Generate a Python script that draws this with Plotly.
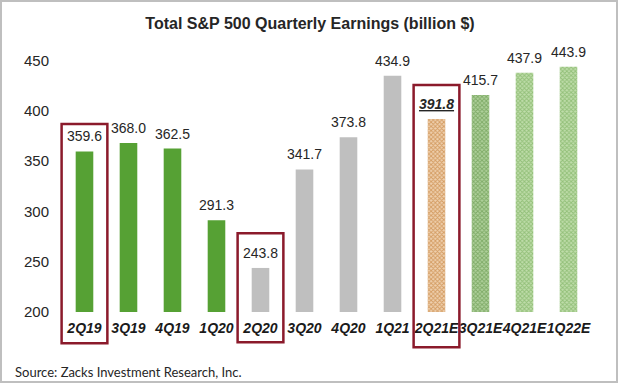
import plotly.graph_objects as go

quarters = ["2Q19", "3Q19", "4Q19", "1Q20", "2Q20", "3Q20", "4Q20", "1Q21",
            "2Q21E", "3Q21E", "4Q21E", "1Q22E"]
earnings = [359.6, 368.0, 362.5, 291.3, 243.8, 341.7, 373.8, 434.9,
            391.8, 415.7, 437.9, 443.9]
kinds = ["actual", "actual", "actual", "actual", "covid", "covid", "covid", "covid",
         "current", "forecast1", "forecast", "forecast"]
highlight = ["2Q19", "2Q20", "2Q21E"]
highlight_top = [386.8, 278.3, 425.6]
highlight_bottom = [169, 170, 165]
y_ticks = [200, 250, 300, 350, 400, 450]
title = "Total S&P 500 Quarterly Earnings (billion $)"
source = "Source: Zacks Investment Research, Inc."

W, H = 620, 385
L, R, T, B = 62, 28, 50, 73
XR = [-0.511, 11.534]
YR = [200, 460.5]

styles = {
    "actual": dict(color="#56A134", fg=None, bg=None),
    "covid": dict(color="#BFBFBF", fg=None, bg=None),
    "current": dict(color="#E3BA8E", fg="#D49C62", bg="#EFD0AE"),
    "forecast1": dict(color="#98C082", fg="#7EAA66", bg="#AFD19B"),
    "forecast": dict(color="#AAD08F", fg="#92BF78", bg="#BFDDAA"),
}

fig = go.Figure()
for i, (q, v, k) in enumerate(zip(quarters, earnings, kinds)):
    st = styles[k]
    marker = dict(color=st["color"], line=dict(width=0))
    if st["fg"]:
        marker["pattern"] = dict(shape="x", size=3, solidity=0.5,
                                 fgcolor=st["fg"], bgcolor=st["bg"], fillmode="replace")
    fig.add_trace(go.Bar(x=[q], y=[v - YR[0]], base=YR[0], marker=marker,
                         width=0.4, showlegend=False, hoverinfo="skip"))

annotations = []
for q, v in zip(quarters, earnings):
    txt = f"{v:.1f}"
    if q == "2Q21E":
        txt = f"<b><i><u>{txt}</u></i></b>"
    annotations.append(dict(x=q, y=v, xref="x", yref="y", text=txt, showarrow=False,
                            yanchor="bottom", yshift=5,
                            font=dict(family="Liberation Sans, Arial", size=14, color="#262626")))

pw = W - L - R
ph = H - T - B


def px_x(i):
    return (i - XR[0]) / (XR[1] - XR[0])


def px_y(v):
    return (v - YR[0]) / (YR[1] - YR[0])


shapes = []
for q, top, bot in zip(highlight, highlight_top, highlight_bottom):
    i = quarters.index(q)
    shapes.append(dict(type="rect", xref="paper", yref="paper",
                       x0=px_x(i - 0.52), x1=px_x(i + 0.52),
                       y0=px_y(bot), y1=px_y(top),
                       line=dict(color="#8B1A2B", width=2.5)))

# outer frame
shapes.append(dict(type="rect", xref="paper", yref="paper",
                   x0=(1 - L) / pw, x1=(617 - L) / pw,
                   y0=(H - B - 382) / ph, y1=(H - B - 1) / ph,
                   line=dict(color="#BFBFBF", width=2)))

annotations.append(dict(x=(13 - L) / pw, y=(H - B - 372) / ph, xref="paper", yref="paper",
                        text=source, showarrow=False, xanchor="left", yanchor="middle",
                        font=dict(family="Lato", size=13, color="#262626")))

fig.update_layout(
    width=W, height=H,
    margin=dict(l=L, r=R, t=T, b=B, pad=0),
    paper_bgcolor="white", plot_bgcolor="white",
    title=dict(text=f"<b>{title}</b>", x=0.5, xanchor="center", y=1 - 23 / H, yanchor="middle",
               font=dict(family="Liberation Sans, Arial", size=16, color="#262626")),
    xaxis=dict(type="category", categoryorder="array", categoryarray=quarters,
               range=XR, showgrid=False, zeroline=False, showline=False, ticks="",
               tickangle=0, ticklabelstandoff=6,
               tickfont=dict(family="Liberation Sans, Arial", size=14, color="#1a1a1a",
                             weight="bold", style="italic")),
    yaxis=dict(range=YR, tickvals=y_ticks, showgrid=False, zeroline=False, showline=False,
               ticks="", ticklabelstandoff=12,
               tickfont=dict(family="Liberation Sans, Arial", size=15, color="#262626")),
    shapes=shapes, annotations=annotations, bargap=0.6,
)

fig.write_html("out.html", config={"displayModeBar": False},
               post_script="document.body.style.margin='0';document.body.style.overflow='hidden';")
